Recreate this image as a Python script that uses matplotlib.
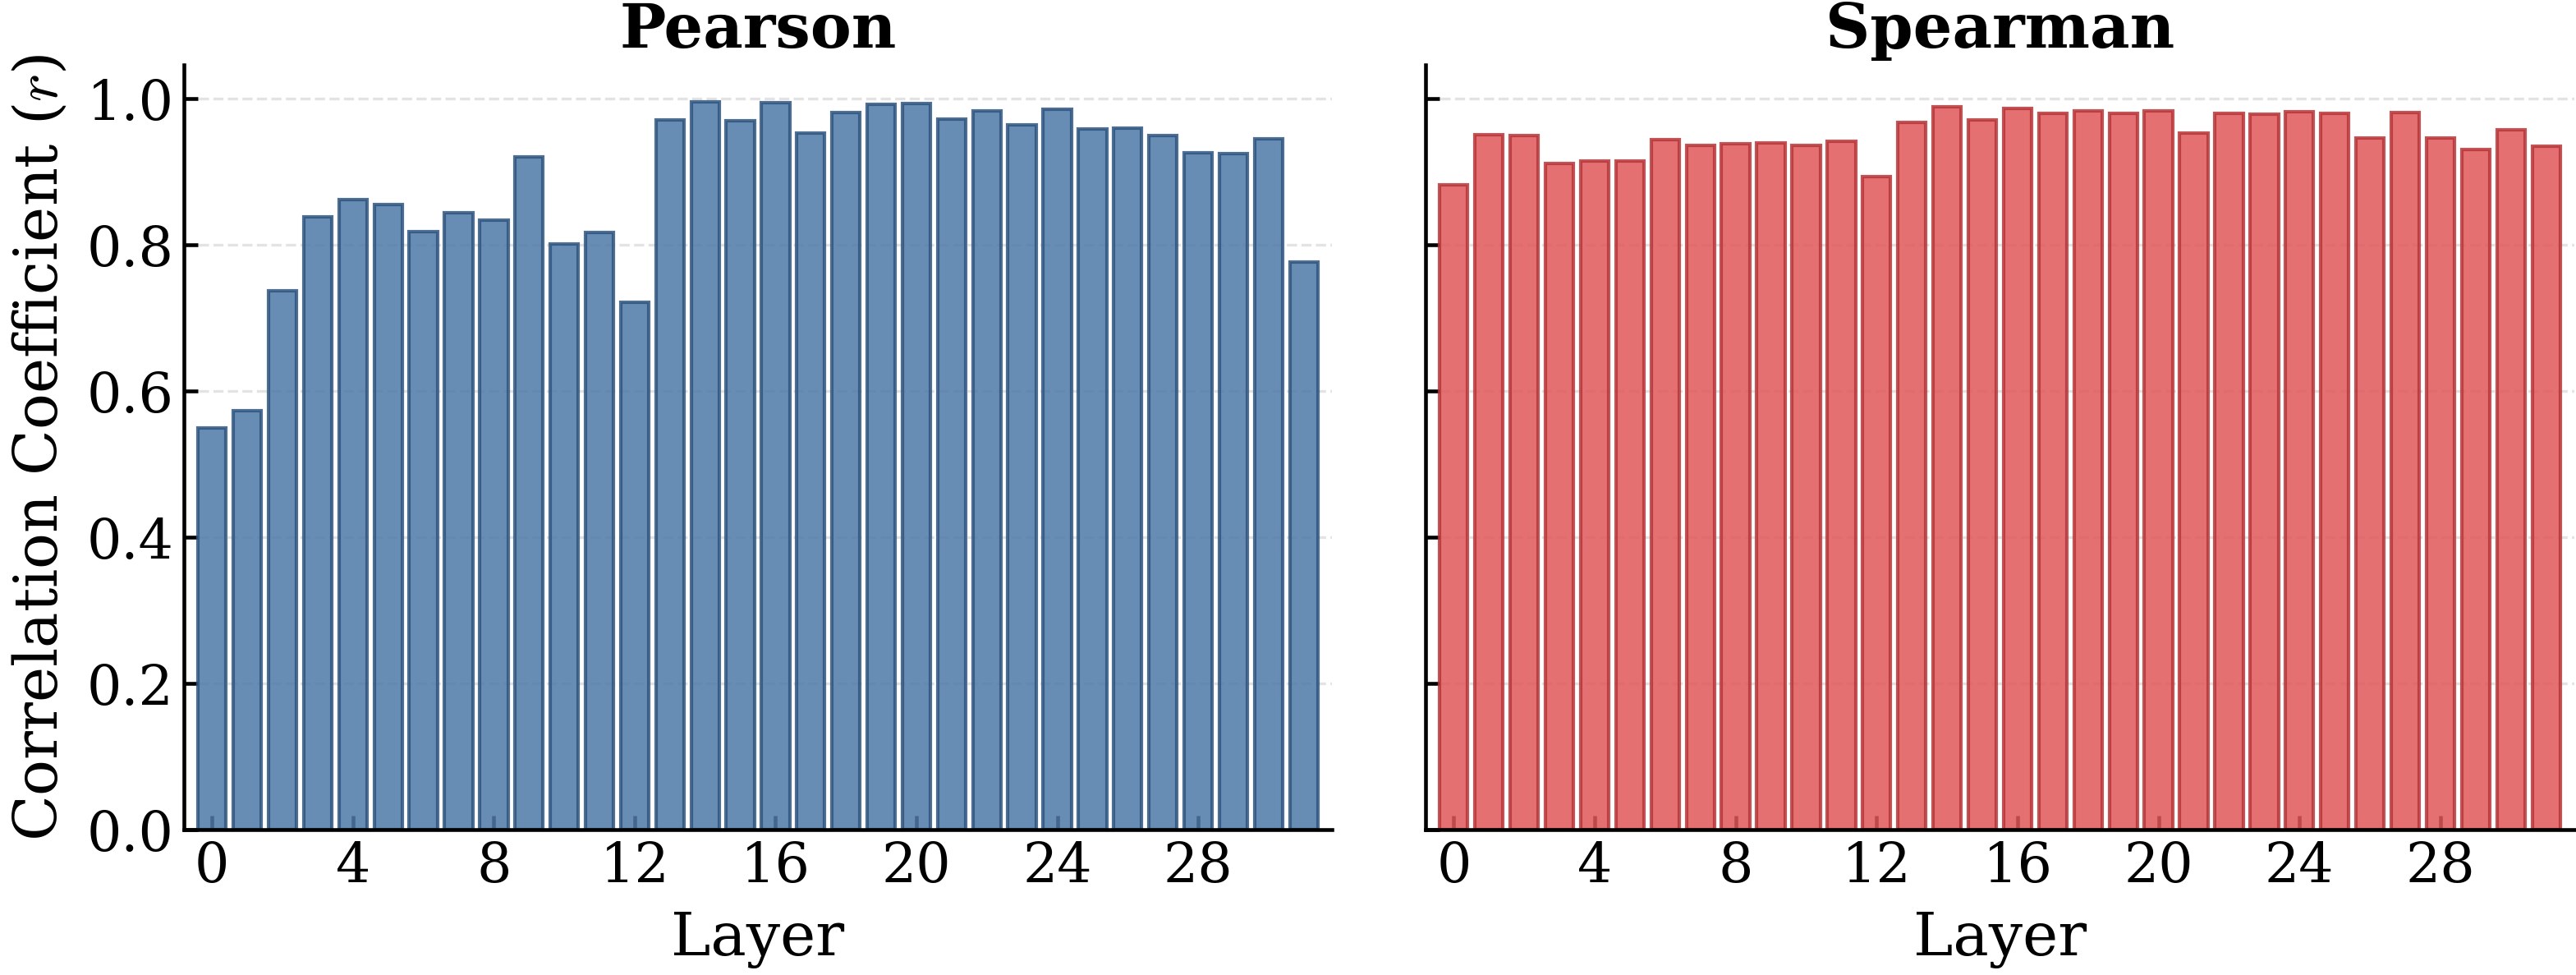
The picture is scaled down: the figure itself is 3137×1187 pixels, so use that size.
"""Per-layer correlation bars: Pearson vs Spearman."""

import numpy as np
import matplotlib
matplotlib.use("Agg")
import matplotlib.pyplot as plt

layers = np.arange(32)
pearson = [
    0.549, 0.573, 0.737, 0.838, 0.862, 0.855, 0.818, 0.844,
    0.834, 0.920, 0.801, 0.817, 0.721, 0.971, 0.995, 0.970,
    0.994, 0.953, 0.981, 0.992, 0.993, 0.972, 0.983, 0.964,
    0.985, 0.958, 0.960, 0.949, 0.926, 0.925, 0.945, 0.776,
]
spearman = [
    0.882, 0.951, 0.949, 0.911, 0.915, 0.914, 0.944, 0.936,
    0.938, 0.939, 0.936, 0.941, 0.893, 0.967, 0.989, 0.971,
    0.986, 0.980, 0.983, 0.980, 0.983, 0.953, 0.980, 0.979,
    0.982, 0.980, 0.946, 0.981, 0.946, 0.930, 0.957, 0.935,
]
titles = ["Pearson", "Spearman"]
xticks = [0, 4, 8, 12, 16, 20, 24, 28]
yticks = [0.0, 0.2, 0.4, 0.6, 0.8, 1.0]

plt.rcParams["font.family"] = "DejaVu Serif"
plt.rcParams["mathtext.fontset"] = "cm"

W, H, DPI = 3137, 1187, 300
fig = plt.figure(figsize=(W / DPI, H / DPI), dpi=DPI)
ax1 = fig.add_axes([224 / W, 1 - 1010 / H, (1622 - 224) / W, (1010 - 79) / H])
ax2 = fig.add_axes([1736 / W, 1 - 1010 / H, (3135 - 1736) / W, (1010 - 79) / H],
                   sharey=ax1)

styles = [("#4E79A7", "#2f557f"), ("#E15759", "#b73638")]
for ax, vals, title, (fc, ec) in zip([ax1, ax2], [pearson, spearman], titles, styles):
    ax.bar(layers, vals, width=0.8, color=fc, edgecolor=ec, linewidth=1.0, alpha=0.85)
    ax.set_axisbelow(True)
    ax.yaxis.grid(True, linestyle="--", color="#e3e3e3", linewidth=0.8)
    ax.set_xlim(-0.8, 31.8)
    ax.set_ylim(0, 1.046)
    ax.set_xticks(xticks)
    ax.set_yticks(yticks)
    ax.set_title(title, fontsize=18, fontweight="bold", pad=5)
    ax.set_xlabel("Layer", fontsize=17.5, labelpad=5)
    for s in ["top", "right"]:
        ax.spines[s].set_visible(False)
    for s in ["left", "bottom"]:
        ax.spines[s].set_linewidth(1.1)
    ax.tick_params(direction="in", length=4, width=1.1, labelsize=16, pad=3)

ax1.set_ylabel(r"Correlation Coefficient ($r$)", fontsize=17.5, labelpad=5)
ax1.set_yticklabels([f"{t:.1f}" for t in yticks])
plt.setp(ax2.get_yticklabels(), visible=False)

fig.savefig("out.png", dpi=DPI)
